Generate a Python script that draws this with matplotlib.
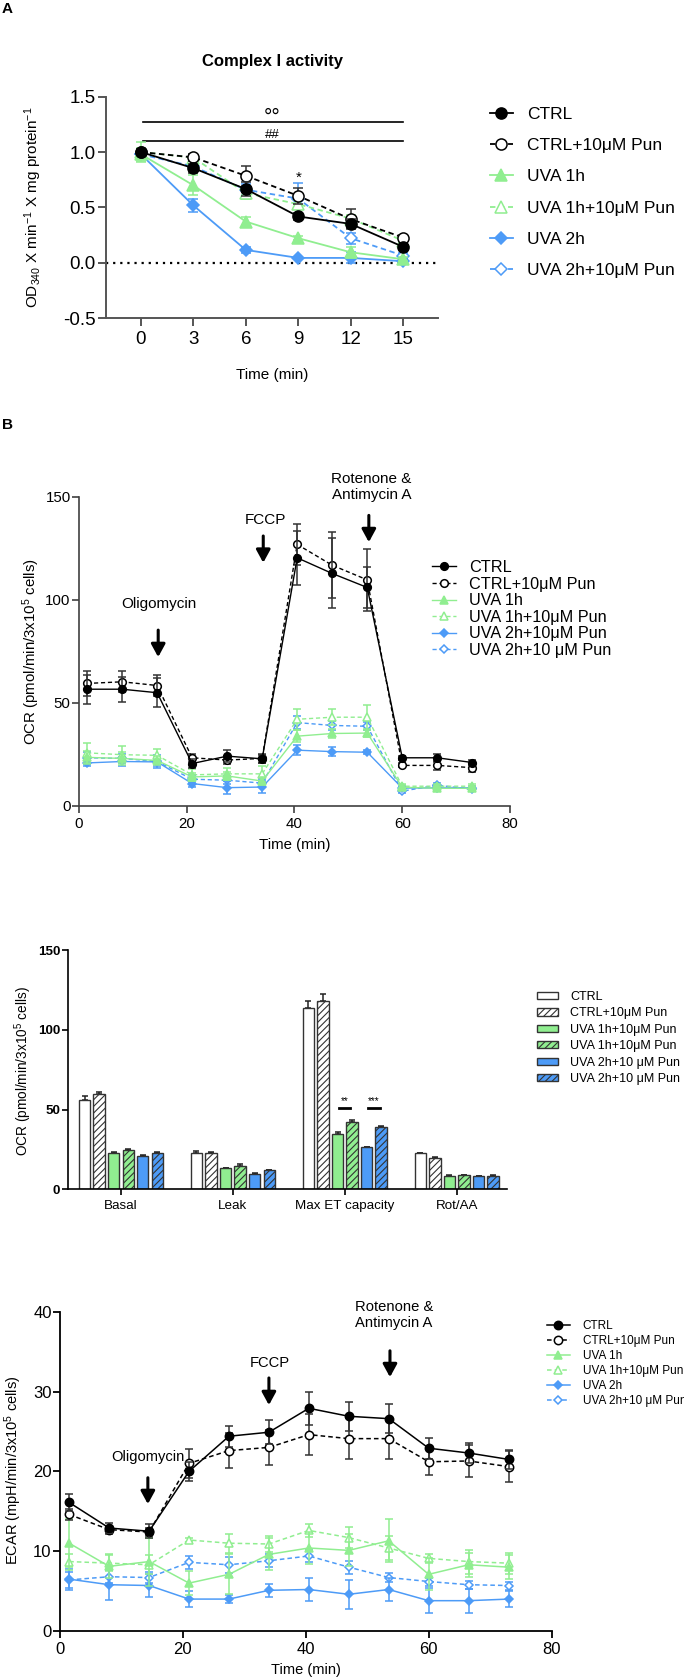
import numpy as np
import matplotlib.pyplot as plt
from matplotlib.patches import Patch

plt.rcParams['font.family'] = ['Liberation Sans', 'DejaVu Sans']
plt.rcParams['mathtext.default'] = 'regular'
plt.rcParams['axes.unicode_minus'] = False
plt.rcParams['hatch.linewidth'] = 0.8

GREEN = '#90EE90'
BLUE = '#4D9BF7'

# ---------------- data: A, complex I activity ----------------
ci_time = [0, 3, 6, 9, 12, 15]
ci_ctrl = [1.00, 0.855, 0.666, 0.419, 0.352, 0.145]
ci_ctrl_err = [0.03, 0.04, 0.06, 0.03, 0.04, 0.02]
ci_ctrl_pun = [1.00, 0.952, 0.786, 0.605, 0.395, 0.229]
ci_ctrl_pun_err = [0.03, 0.03, 0.09, 0.07, 0.09, 0.02]
ci_uva1 = [0.98, 0.70, 0.373, 0.223, 0.096, 0.033]
ci_uva1_err = [0.06, 0.09, 0.04, 0.02, 0.05, 0.02]
ci_uva1_pun = [1.00, 0.95, 0.63, 0.53, 0.40, 0.20]
ci_uva1_pun_err = [0.09, 0.03, 0.05, 0.04, 0.03, 0.02]
ci_uva2 = [0.98, 0.518, 0.117, 0.045, 0.045, 0.015]
ci_uva2_err = [0.04, 0.06, 0.03, 0.01, 0.05, 0.02]
ci_uva2_pun = [0.98, 0.87, 0.66, 0.58, 0.223, 0.066]
ci_uva2_pun_err = [0.04, 0.03, 0.05, 0.14, 0.05, 0.02]
ci_labels = ['CTRL', 'CTRL+10\u03bcM Pun', 'UVA 1h', 'UVA 1h+10\u03bcM Pun',
             'UVA 2h', 'UVA 2h+10\u03bcM Pun']

# ---------------- data: B, OCR time course ----------------
sh_time = [1.5, 8, 14.5, 21, 27.5, 34, 40.5, 47, 53.5, 60, 66.5, 73]
ocr_ctrl = [56.6, 56.6, 54.9, 20.5, 24.1, 22.8, 120.4, 112.8, 106.0, 23.3, 23.3, 21.0]
ocr_ctrl_err = [7, 6, 7, 2, 3, 2, 13, 17, 10, 1, 2, 1]
ocr_ctrl_pun = [59.4, 60.2, 58.4, 23.3, 22.2, 23.0, 126.9, 116.8, 109.7, 19.6, 19.6, 18.5]
ocr_ctrl_pun_err = [6, 5, 5, 2, 2, 2, 10, 16, 15, 1, 2, 2]
ocr_uva1 = [23.5, 23.0, 22.0, 14.0, 14.5, 12.0, 33.8, 35.1, 35.3, 9.0, 8.5, 8.5]
ocr_uva1_err = [3, 3, 2, 2, 2, 2, 3, 2, 2, 1, 1, 1]
ocr_uva1_pun = [25.7, 24.8, 24.5, 15.0, 15.5, 15.5, 42.0, 43.0, 43.0, 9.5, 9.5, 9.5]
ocr_uva1_pun_err = [5, 4, 3, 3, 3, 4, 5, 4, 6, 1, 1, 1]
ocr_uva2 = [20.8, 21.5, 21.3, 10.8, 8.8, 9.1, 27.0, 26.3, 26.0, 8.6, 8.7, 8.7]
ocr_uva2_err = [1.5, 2, 2, 1.5, 3, 3, 2.5, 2, 1, 1, 1, 1]
ocr_uva2_pun = [23.3, 23.0, 21.5, 12.9, 12.4, 11.0, 40.4, 39.0, 38.6, 7.1, 10.0, 8.0]
ocr_uva2_pun_err = [3, 2, 3, 2, 2, 2, 3, 2, 2, 1, 1, 1]
ocr_labels = ['CTRL', 'CTRL+10\u03bcM Pun', 'UVA 1h', 'UVA 1h+10\u03bcM Pun',
              'UVA 2h+10\u03bcM Pun', 'UVA 2h+10 \u03bcM Pun']

# ---------------- data: B, OCR parameters (bars) ----------------
bar_groups = ['Basal', 'Leak', 'Max ET capacity', 'Rot/AA']
bar_ctrl = [56.0, 22.6, 113.4, 22.6]
bar_ctrl_err = [2.5, 1.5, 4.5, 0.5]
bar_ctrl_pun = [59.5, 23.0, 117.8, 19.4]
bar_ctrl_pun_err = [1.5, 0.5, 4.5, 0.6]
bar_uva1 = [22.6, 13.2, 34.9, 8.6]
bar_uva1_err = [1.0, 0.5, 1.0, 0.3]
bar_uva1_pun = [24.6, 14.8, 42.0, 8.8]
bar_uva1_pun_err = [1.0, 1.0, 1.5, 0.4]
bar_uva2 = [21.1, 9.4, 26.3, 8.1]
bar_uva2_err = [0.5, 1.0, 0.5, 0.3]
bar_uva2_pun = [22.6, 11.9, 39.3, 8.4]
bar_uva2_pun_err = [1.0, 0.5, 0.5, 0.3]
bar_labels = ['CTRL', 'CTRL+10\u03bcM Pun', 'UVA 1h+10\u03bcM Pun', 'UVA 1h+10\u03bcM Pun',
              'UVA 2h+10 \u03bcM Pun', 'UVA 2h+10 \u03bcM Pun']

# ---------------- data: B, ECAR time course ----------------
ecar_ctrl = [16.1, 12.9, 12.5, 20.0, 24.4, 24.9, 27.9, 26.9, 26.6, 22.9, 22.3, 21.5]
ecar_ctrl_err = [1.1, 0.6, 0.9, 1.2, 1.3, 1.5, 2.1, 1.8, 1.8, 1.3, 1.3, 1.2]
ecar_ctrl_pun = [14.6, 12.7, 12.4, 21.0, 22.6, 23.0, 24.6, 24.1, 24.1, 21.2, 21.3, 20.6]
ecar_ctrl_pun_err = [0.7, 0.5, 0.5, 1.8, 2.2, 2.2, 2.6, 2.6, 2.6, 1.6, 2.0, 1.9]
ecar_uva1 = [11.0, 8.1, 8.7, 6.0, 7.1, 9.6, 10.4, 10.1, 11.3, 7.1, 8.3, 8.0]
ecar_uva1_err = [3.0, 1.5, 3.0, 1.5, 2.5, 2.0, 2.0, 2.0, 2.7, 2.0, 1.5, 1.5]
ecar_uva1_pun = [8.7, 8.5, 8.3, 11.4, 11.0, 10.9, 12.6, 11.7, 10.4, 9.1, 8.7, 8.5]
ecar_uva1_pun_err = [1.0, 1.0, 1.2, 0.3, 1.2, 1.0, 0.8, 1.3, 1.5, 0.6, 1.5, 1.3]
ecar_uva2 = [6.5, 5.8, 5.7, 4.0, 4.0, 5.1, 5.2, 4.6, 5.2, 3.8, 3.8, 4.0]
ecar_uva2_err = [1.3, 1.9, 1.5, 1.0, 0.5, 0.8, 1.5, 1.8, 1.4, 1.6, 1.5, 1.0]
ecar_uva2_pun = [6.4, 6.8, 6.7, 8.6, 8.3, 8.8, 9.4, 8.0, 6.7, 6.2, 5.8, 5.7]
ecar_uva2_pun_err = [1.0, 0.8, 0.7, 0.8, 1.0, 0.8, 0.8, 0.8, 0.6, 0.5, 0.5, 0.5]
ecar_labels = ['CTRL', 'CTRL+10\u03bcM Pun', 'UVA 1h', 'UVA 1h+10\u03bcM Pun',
               'UVA 2h', 'UVA 2h+10 \u03bcM Pun']

# colour, marker, linestyle, filled
styles = [('black', 'o', '-', True), ('black', 'o', (0, (3, 2)), False),
          (GREEN, '^', '-', True), (GREEN, '^', (0, (3, 2)), False),
          (BLUE, 'D', '-', True), (BLUE, 'D', (0, (3, 2)), False)]
marker_scale = {'o': 1.0, '^': 1.0, 'D': 0.72}


def draw_series(ax, x, ys, errs, ms, lw, capsize):
    handles = []
    for i, (y, e, (col, mk, ls, filled)) in enumerate(zip(ys, errs, styles)):
        ecol = '#333333' if col == 'black' else col
        eb = ax.errorbar(x, y, yerr=e, color=col, marker=mk, ls=ls, lw=lw,
                         ms=ms * marker_scale[mk], mfc=col if filled else 'white',
                         mec=col, mew=1.1, ecolor=ecol, elinewidth=1.1,
                         capsize=capsize, capthick=1.1, zorder=10 - i)
        handles.append(eb[0])
    return handles


def style_axes(ax, color, width, length, fs, ypad, xpad):
    for s in ['top', 'right']:
        ax.spines[s].set_visible(False)
    for s in ['left', 'bottom']:
        ax.spines[s].set_color(color)
        ax.spines[s].set_linewidth(width)
    ax.tick_params(axis='y', direction='out', length=length, width=width,
                   color=color, labelsize=fs, pad=ypad)
    ax.tick_params(axis='x', direction='out', length=length, width=width,
                   color=color, labelsize=fs, pad=xpad)


def arrow(ax, x, y0, y1):
    ax.annotate('', xy=(x, y1), xytext=(x, y0), annotation_clip=False,
                arrowprops=dict(arrowstyle='-|>,head_length=0.55,head_width=0.3',
                                color='black', lw=2.2, mutation_scale=14,
                                shrinkA=0, shrinkB=0))


fig = plt.figure(figsize=(6.84, 16.78), dpi=100)
fig.text(0.003, 1 - 9 / 1678, 'A', fontsize=11, fontweight='bold', va='center')
fig.text(0.003, 1 - 425 / 1678, 'B', fontsize=11, fontweight='bold', va='center')

# ---------------- panel A ----------------
ax = fig.add_axes([0.155, 0.8103, 0.4854, 0.1321])
h = draw_series(ax, ci_time,
                [ci_ctrl, ci_ctrl_pun, ci_uva1, ci_uva1_pun, ci_uva2, ci_uva2_pun],
                [ci_ctrl_err, ci_ctrl_pun_err, ci_uva1_err, ci_uva1_pun_err,
                 ci_uva2_err, ci_uva2_pun_err], ms=8, lw=1.3, capsize=3.6)
ax.axhline(0, color='black', ls=(0, (1, 2.2)), lw=1.6, zorder=1)
ax.set_xlim(-2, 17)
ax.set_ylim(-0.5, 1.5)
ax.set_xticks(ci_time)
ax.set_yticks([-0.5, 0.0, 0.5, 1.0, 1.5])
ax.set_yticklabels(['-0.5', '0.0', '0.5', '1.0', '1.5'])
style_axes(ax, '#555555', 1.4, 6, 13.5, 1.5, 3)
ax.plot([0.1, 15], [1.274, 1.274], color='black', lw=1.2)
ax.plot([0.1, 15], [1.10, 1.10], color='black', lw=1.2)
ax.text(7.5, 1.262, '\u00b0\u00b0', ha='center', va='baseline', fontsize=15)
ax.text(7.5, 1.125, '##', ha='center', va='baseline', fontsize=9.5)
ax.text(9, 0.73, '*', ha='center', va='baseline', fontsize=11)
ax.set_title('Complex I activity', fontsize=12, fontweight='bold', pad=22)
ax.set_xlabel('Time (min)', fontsize=11)
ax.set_ylabel('OD$_{340}$ X min$^{-1}$ X mg protein$^{-1}$', fontsize=11)
ax.xaxis.set_label_coords(0.5, -0.225)
ax.yaxis.set_label_coords(-0.188, 0.5)
fig.legend(h, ci_labels, loc='upper left', bbox_to_anchor=(0.7164, 0.9362),
           frameon=False, fontsize=12.5, borderpad=0, borderaxespad=0,
           handlelength=1.32, handletextpad=0.8, labelspacing=0.92)

# ---------------- panel B: OCR ----------------
ax = fig.add_axes([0.1155, 0.5198, 0.6301, 0.1841])
h = draw_series(ax, sh_time,
                [ocr_ctrl, ocr_ctrl_pun, ocr_uva1, ocr_uva1_pun, ocr_uva2, ocr_uva2_pun],
                [ocr_ctrl_err, ocr_ctrl_pun_err, ocr_uva1_err, ocr_uva1_pun_err,
                 ocr_uva2_err, ocr_uva2_pun_err], ms=5.5, lw=1.0, capsize=3)
ax.set_xlim(0, 80)
ax.set_ylim(0, 150)
ax.set_xticks([0, 20, 40, 60, 80])
ax.set_yticks([0, 50, 100, 150])
style_axes(ax, '#404040', 1.2, 5, 10.8, 1, 3)
ax.set_xlabel('Time (min)', fontsize=10.8)
ax.set_ylabel('OCR (pmol/min/3x10$^5$ cells)', fontsize=10.8)
ax.xaxis.set_label_coords(0.5, -0.103)
ax.yaxis.set_label_coords(-0.085, 0.498)
ax.text(14.8, 97.9, 'Oligomycin', ha='center', va='center', fontsize=11)
arrow(ax, 14.7, 85.3, 72.2)
ax.text(34.6, 138.7, 'FCCP', ha='center', va='center', fontsize=11)
arrow(ax, 34.2, 131, 118)
ax.text(54.3, 154.7, 'Rotenone &\nAntimycin A', ha='center', va='center', fontsize=11)
arrow(ax, 53.8, 141, 128)
fig.legend(h, ocr_labels, loc='upper left', bbox_to_anchor=(0.6311, 0.6663),
           frameon=False, fontsize=11.7, borderpad=0, borderaxespad=0,
           handlelength=1.5, handletextpad=0.8, labelspacing=0.1)

# ---------------- panel B: bars ----------------
ax = fig.add_axes([0.0994, 0.2912, 0.642, 0.1426])
bar_vals = [bar_ctrl, bar_ctrl_pun, bar_uva1, bar_uva1_pun, bar_uva2, bar_uva2_pun]
bar_errs = [bar_ctrl_err, bar_ctrl_pun_err, bar_uva1_err, bar_uva1_pun_err,
            bar_uva2_err, bar_uva2_pun_err]
bar_faces = ['white', 'white', GREEN, GREEN, BLUE, BLUE]
bar_hatch = [None, '/////', None, '/////', None, '/////']
xg = np.arange(len(bar_groups))
step, width = 0.13, 0.102
patches = []
for i, (v, e) in enumerate(zip(bar_vals, bar_errs)):
    xs = xg + (i - 2.5) * step
    ax.bar(xs, v, width=width, color=bar_faces[i], edgecolor='#333333',
           linewidth=1.0, hatch=bar_hatch[i], zorder=2)
    ax.errorbar(xs, v, yerr=[np.zeros(len(e)), e], fmt='none', ecolor='#222222',
                elinewidth=1.1, capsize=2.5, capthick=1.1, zorder=1)
    patches.append(Patch(facecolor=bar_faces[i], edgecolor='#333333',
                         hatch=bar_hatch[i], linewidth=1.0))
for xc, txt in [(2.0, '**'), (2.0 + 2 * step, '***')]:
    ax.plot([xc - 0.05, xc + 0.05], [50.8, 50.8], color='black', lw=2)
    ax.text(xc, 52.5, txt, ha='center', va='bottom', fontsize=7)
ax.set_xlim(-0.473, 3.45)
ax.set_ylim(0, 150)
ax.set_xticks(xg)
ax.set_xticklabels(bar_groups)
ax.set_yticks([0, 50, 100, 150])
style_axes(ax, 'black', 1.2, 4.5, 9.6, 1, 3)
for t in ax.get_yticklabels():
    t.set_fontweight('bold')
ax.set_ylabel('OCR (pmol/min/3x10$^5$ cells)', fontsize=9.8)
ax.yaxis.set_label_coords(-0.078, 0.495)
fig.legend(patches, bar_labels, loc='upper left', bbox_to_anchor=(0.7846, 0.4094),
           frameon=False, fontsize=9, borderpad=0, borderaxespad=0,
           handlelength=1.7, handleheight=0.5, handletextpad=0.96, labelspacing=0.35)

# ---------------- panel B: ECAR ----------------
ax = fig.add_axes([0.0877, 0.0280, 0.7187, 0.1903])
h = draw_series(ax, sh_time,
                [ecar_ctrl, ecar_ctrl_pun, ecar_uva1, ecar_uva1_pun, ecar_uva2, ecar_uva2_pun],
                [ecar_ctrl_err, ecar_ctrl_pun_err, ecar_uva1_err, ecar_uva1_pun_err,
                 ecar_uva2_err, ecar_uva2_pun_err], ms=6, lw=1.1, capsize=3)
ax.set_xlim(0, 80)
ax.set_ylim(0, 40)
ax.set_xticks([0, 20, 40, 60, 80])
ax.set_yticks([0, 10, 20, 30, 40])
style_axes(ax, 'black', 1.3, 5, 12, 1, 3)
ax.set_xlabel('Time (min)', fontsize=10.5)
ax.set_ylabel('ECAR (mpH/min/3x10$^5$ cells)', fontsize=10.5)
ax.xaxis.set_label_coords(0.5, -0.1)
ax.yaxis.set_label_coords(-0.074, 0.504)
ax.text(14.3, 21.8, 'Oligomycin', ha='center', va='center', fontsize=10.6)
arrow(ax, 14.3, 19.2, 15.9)
ax.text(34.2, 33.6, 'FCCP', ha='center', va='center', fontsize=10.6)
arrow(ax, 34.0, 31.7, 28.3)
ax.text(54.3, 39.6, 'Rotenone &\nAntimycin A', ha='center', va='center', fontsize=10.6)
arrow(ax, 53.7, 35.1, 31.8)
fig.legend(h, ecar_labels, loc='upper left', bbox_to_anchor=(0.7993, 0.2134),
           frameon=False, fontsize=8.5, borderpad=0, borderaxespad=0,
           handlelength=1.97, handletextpad=1.07, labelspacing=0.25)

fig.savefig('out.png', dpi=100)
